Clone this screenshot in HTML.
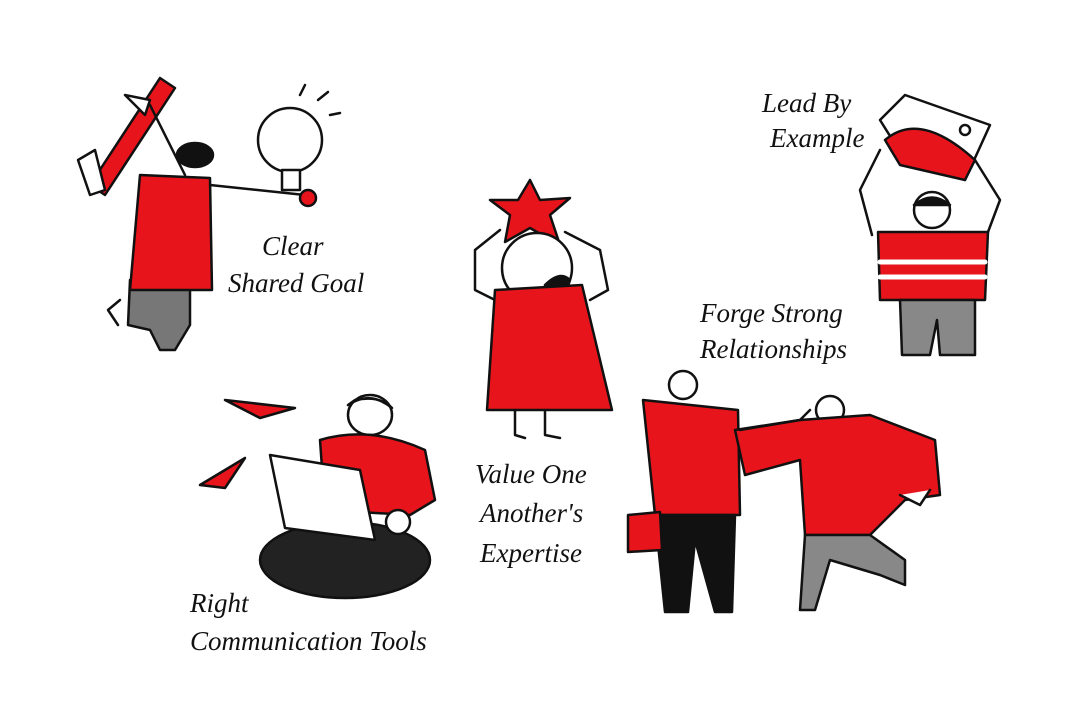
<!DOCTYPE html>
<html><head><meta charset="utf-8"><style>
html,body{margin:0;padding:0;background:#fff;width:1068px;height:704px;overflow:hidden}
svg text{font-family:"URW Chancery L","Liberation Serif",cursive;font-style:italic;fill:#111;font-size:27px}
</style></head><body>
<svg width="1068" height="704" viewBox="0 0 1068 704" xmlns="http://www.w3.org/2000/svg">
<g stroke="#111" stroke-width="2.5" stroke-linejoin="round" stroke-linecap="round">
<!-- Figure 1: Clear shared goal -->
<path d="M90 185 L160 78 L175 88 L105 195 Z" fill="#e8141b"/>
<path d="M78 160 L95 150 L105 190 L90 195 Z" fill="#fff"/>
<path d="M130 280 L128 325 L150 330 L160 350 L175 350 L190 325 L190 290 Z" fill="#777"/>
<path d="M140 175 L210 178 L212 290 L130 290 Z" fill="#e8141b"/>
<path d="M210 185 L305 195" fill="none"/>
<path d="M150 105 L185 175" fill="none"/>
<path d="M125 95 L150 100 L145 115 Z" fill="#fff"/>
<ellipse cx="195" cy="155" rx="18" ry="12" fill="#111"/>
<circle cx="290" cy="140" r="32" fill="#fff"/>
<path d="M282 170 L300 170 L300 190 L282 190 Z" fill="#fff"/>
<circle cx="308" cy="198" r="8" fill="#e8141b"/>
<path d="M300 95 L305 85 M318 100 L328 92 M330 115 L340 113" fill="none"/>
<path d="M120 300 L108 310 L118 325" fill="none"/>
<!-- Center figure -->
<path d="M530 180 L540 200 L570 198 L550 215 L560 245 L530 228 L505 242 L510 215 L490 200 L518 200 Z" fill="#e8141b"/>
<path d="M500 230 L475 250 L475 290 L495 300" fill="none"/>
<path d="M565 232 L600 250 L608 290 L590 300" fill="none"/>
<circle cx="537" cy="268" r="35" fill="#fff"/>
<path d="M545 285 Q560 270 570 280 Q565 300 545 300 Z" fill="#111"/>
<path d="M495 290 L582 285 L612 410 L487 410 Z" fill="#e8141b"/>
<path d="M515 410 L515 435 L525 438 M545 410 L545 435 L560 438" fill="none"/>
<!-- Lead by example -->
<path d="M880 120 L905 95 L990 125 L965 180 L905 160 Z" fill="#fff"/>
<path d="M885 140 Q920 110 975 160 L965 180 L900 165 Z" fill="#e8141b"/>
<circle cx="965" cy="130" r="5" fill="none"/>
<path d="M880 150 L860 190 L872 235 M975 160 L1000 200 L985 240" fill="none"/>
<path d="M878 232 L988 232 L985 300 L880 300 Z" fill="#e8141b"/>
<path d="M880 262 L985 262 M880 277 L985 277" stroke="#fff" stroke-width="5"/>
<circle cx="932" cy="210" r="18" fill="#fff"/>
<path d="M914 205 Q932 190 950 205 Z" fill="#111"/>
<path d="M900 300 L975 300 L975 355 L940 355 L937 320 L930 355 L902 355 Z" fill="#888"/>
<!-- Laptop person -->
<path d="M225 400 L295 408 L260 418 Z" fill="#e8141b"/>
<path d="M200 485 L245 458 L225 488 Z" fill="#e8141b"/>
<ellipse cx="370" cy="415" rx="22" ry="20" fill="#fff"/>
<path d="M348 405 Q370 390 392 408 Q380 395 355 400 Z" fill="#111"/>
<path d="M320 440 Q370 425 425 450 L435 500 L410 515 L325 510 Z" fill="#e8141b"/>
<ellipse cx="345" cy="560" rx="85" ry="38" fill="#222"/>
<path d="M270 455 L360 470 L375 540 L285 528 Z" fill="#fff"/>
<circle cx="398" cy="522" r="12" fill="#fff"/>
<!-- Two men -->
<circle cx="683" cy="385" r="14" fill="#fff"/>
<path d="M643 400 L738 410 L740 515 L655 515 Z" fill="#e8141b"/>
<path d="M655 515 L735 515 L732 612 L715 612 L695 540 L688 612 L665 612 Z" fill="#111"/>
<path d="M628 515 L660 512 L662 550 L628 552 Z" fill="#e8141b"/>
<circle cx="830" cy="410" r="14" fill="#fff"/>
<path d="M735 430 L800 420 L870 415 L935 440 L940 495 L905 500 L870 535 L805 535 L800 460 L745 475 Z" fill="#e8141b"/>
<path d="M740 430 L800 420 L810 410" fill="none"/>
<path d="M805 535 L870 535 L905 560 L905 585 L880 575 L830 560 L815 610 L800 610 Z" fill="#888"/>
<path d="M900 495 L920 505 L930 490" fill="#fff"/>
</g>
<text x="262" y="255">Clear</text>
<text x="228" y="292">Shared Goal</text>
<text x="762" y="112">Lead By</text>
<text x="770" y="147">Example</text>
<text x="700" y="322">Forge Strong</text>
<text x="700" y="358">Relationships</text>
<text x="475" y="483">Value One</text>
<text x="480" y="522">Another's</text>
<text x="480" y="562">Expertise</text>
<text x="190" y="612">Right</text>
<text x="190" y="650">Communication Tools</text>
</svg>
</body></html>
